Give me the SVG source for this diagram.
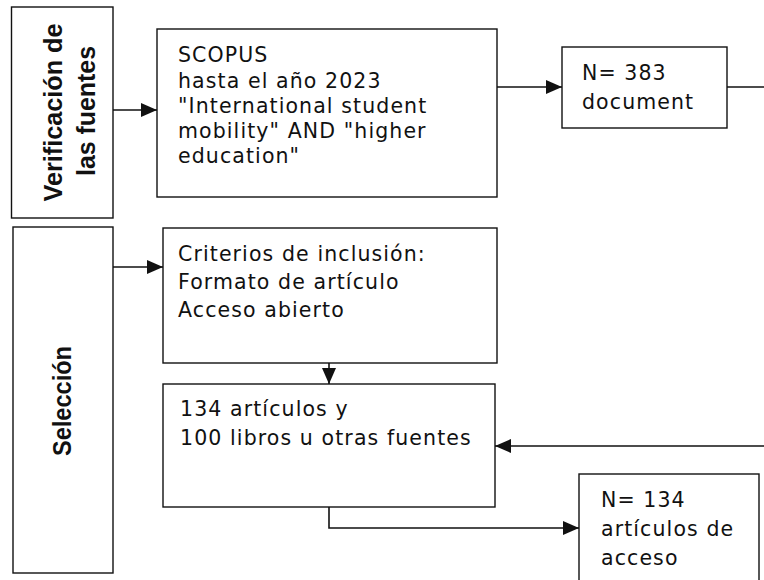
<svg xmlns="http://www.w3.org/2000/svg" width="764" height="580" viewBox="0 0 764 580">
<defs>
<style>
.box{fill:#fff;stroke:#111;stroke-width:1.4}
.t{font-family:"DejaVu Sans","Open Sans",sans-serif;font-size:20.5px;letter-spacing:1.1px;fill:#111}
.b{font-family:"Liberation Sans",Arial,sans-serif;font-weight:bold;font-size:26px;fill:#111;text-anchor:middle}
.c{fill:none;stroke:#111;stroke-width:1.6}
</style>
<marker id="ah" markerUnits="userSpaceOnUse" markerWidth="16" markerHeight="14" refX="16" refY="7" orient="auto">
<path d="M0,0 L16,7 L0,14 z" fill="#111"/>
</marker>
</defs>
<rect width="764" height="580" fill="#fff"/>
<g id="connectors">
<line class="c" x1="113" y1="110" x2="157" y2="110" marker-end="url(#ah)"/>
<line class="c" x1="497" y1="87" x2="562" y2="87" marker-end="url(#ah)"/>
<line class="c" x1="727" y1="87" x2="764" y2="87"/>
<line class="c" x1="113" y1="267" x2="163" y2="267" marker-end="url(#ah)"/>
<line class="c" x1="329" y1="363" x2="329" y2="384" marker-end="url(#ah)"/>
<line class="c" x1="764" y1="446" x2="495" y2="446" marker-end="url(#ah)"/>
<polyline class="c" points="329,507 329,528 579,528" marker-end="url(#ah)"/>
</g>
<g id="verificacion">
<rect class="box" x="11.5" y="7" width="101.5" height="211"/>
<text class="b" transform="translate(62,112.5) rotate(-90)" textLength="178" lengthAdjust="spacingAndGlyphs">Verificación de</text>
<text class="b" transform="translate(95,111) rotate(-90)" textLength="130" lengthAdjust="spacingAndGlyphs">las fuentes</text>
</g>
<g id="scopus">
<rect class="box" x="157" y="29" width="340" height="168"/>
<text class="t" x="178" y="62">SCOPUS</text>
<text class="t" x="178" y="88">hasta el año 2023</text>
<text class="t" x="178" y="113">"International student</text>
<text class="t" x="178" y="138">mobility" AND "higher</text>
<text class="t" x="178" y="163">education"</text>
</g>
<g id="n383">
<rect class="box" x="562" y="47" width="165" height="81"/>
<text class="t" x="582" y="80">N= 383</text>
<text class="t" x="582" y="109">document</text>
</g>
<g id="seleccion">
<rect class="box" x="13" y="227" width="100" height="346"/>
<text class="b" transform="translate(71,401) rotate(-90)" textLength="110" lengthAdjust="spacingAndGlyphs">Selección</text>
</g>
<g id="criterios">
<rect class="box" x="163" y="228" width="334" height="135"/>
<text class="t" x="178" y="261">Criterios de inclusión:</text>
<text class="t" x="178" y="289">Formato de artículo</text>
<text class="t" x="178" y="317">Acceso abierto</text>
</g>
<g id="articulos">
<rect class="box" x="163" y="384" width="332" height="123"/>
<text class="t" x="180" y="416">134 artículos y</text>
<text class="t" x="180" y="445">100 libros u otras fuentes</text>
</g>
<g id="n134">
<rect class="box" x="579" y="474" width="180" height="120"/>
<text class="t" x="601" y="507">N= 134</text>
<text class="t" x="601" y="536">artículos de</text>
<text class="t" x="601" y="565">acceso</text>
</g>
</svg>
